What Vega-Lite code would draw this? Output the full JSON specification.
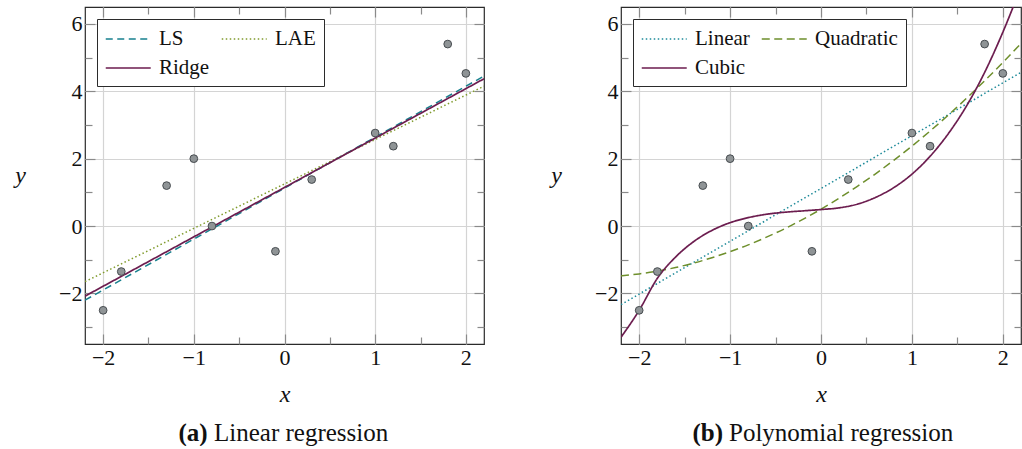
{
  "$schema": "https://vega.github.io/schema/vega-lite/v6.json",
  "padding": {"left": 14, "top": 5, "right": 0, "bottom": 0},
  "spacing": 64,
  "config": {
    "font": "Liberation Serif",
    "style": {"guide-label": {"font": "Liberation Serif", "fontSize": 22, "fill": "#111"}, "guide-title": {"font": "Liberation Serif", "fill": "#111"}},
    "view": {"stroke": "#2b2b2b", "strokeWidth": 1.2},
    "axis": {"labelFont": "Liberation Serif", "labelFontSize": 22, "labelColor": "#111", "titleFont": "Liberation Serif", "titleColor": "#111", "titleFontWeight": "normal", "domain": false, "gridColor": "#d4d4d4", "gridWidth": 1.2, "tickColor": "#8a8a8a", "tickWidth": 1.2, "labelFlush": false},
    "legend": {"orient": "top-left", "offset": 12, "columns": 2, "direction": "horizontal", "fillColor": "white", "strokeColor": "#2b2b2b", "padding": 8, "cornerRadius": 0, "symbolType": "M-1,0H3", "symbolSize": 506, "symbolStrokeWidth": 1.5, "labelFont": "Liberation Serif", "labelFontSize": 21, "labelColor": "#111", "labelOffset": 30, "columnPadding": 8, "rowPadding": 7},
    "line": {"strokeWidth": 1.5, "clip": true}
  },
  "datasets": {
    "pts": [
      {"x": -2, "y": -2.5}, {"x": -1.8, "y": -1.35}, {"x": -1.3, "y": 1.2}, {"x": -1, "y": 2},
      {"x": -0.8, "y": 0}, {"x": -0.1, "y": -0.75}, {"x": 0.3, "y": 1.38}, {"x": 1, "y": 2.76},
      {"x": 1.2, "y": 2.37}, {"x": 1.8, "y": 5.4}, {"x": 2, "y": 4.53}
    ],
    "lin": [
      {"series": "LS", "x": -2.2, "y": -2.2}, {"series": "LS", "x": 2.2, "y": 4.45},
      {"series": "LAE", "x": -2.2, "y": -1.65}, {"series": "LAE", "x": 2.2, "y": 4.15},
      {"series": "Ridge", "x": -2.2, "y": -2.08}, {"series": "Ridge", "x": 2.2, "y": 4.37}
    ],
    "poly": [
      {"series": "Linear", "x": -2.2, "y": -2.33}, {"series": "Linear", "x": 2.2, "y": 4.56},
      {"series": "Quadratic", "x": -2.2, "y": -1.48}, {"series": "Quadratic", "x": -2.0, "y": -1.42},
      {"series": "Quadratic", "x": -1.8, "y": -1.34}, {"series": "Quadratic", "x": -1.6, "y": -1.23},
      {"series": "Quadratic", "x": -1.4, "y": -1.1}, {"series": "Quadratic", "x": -1.2, "y": -0.94},
      {"series": "Quadratic", "x": -1.0, "y": -0.76}, {"series": "Quadratic", "x": -0.8, "y": -0.56},
      {"series": "Quadratic", "x": -0.6, "y": -0.33}, {"series": "Quadratic", "x": -0.4, "y": -0.08},
      {"series": "Quadratic", "x": -0.2, "y": 0.2}, {"series": "Quadratic", "x": 0, "y": 0.5},
      {"series": "Quadratic", "x": 0.2, "y": 0.83}, {"series": "Quadratic", "x": 0.4, "y": 1.18},
      {"series": "Quadratic", "x": 0.6, "y": 1.55}, {"series": "Quadratic", "x": 0.8, "y": 1.95},
      {"series": "Quadratic", "x": 1.0, "y": 2.37}, {"series": "Quadratic", "x": 1.2, "y": 2.82},
      {"series": "Quadratic", "x": 1.4, "y": 3.29}, {"series": "Quadratic", "x": 1.6, "y": 3.79},
      {"series": "Quadratic", "x": 1.8, "y": 4.31}, {"series": "Quadratic", "x": 2.0, "y": 4.85},
      {"series": "Quadratic", "x": 2.2, "y": 5.42},
      {"series": "Cubic", "x": -2.2, "y": -3.3}, {"series": "Cubic", "x": -2.0, "y": -2.5},
      {"series": "Cubic", "x": -1.8, "y": -1.55}, {"series": "Cubic", "x": -1.6, "y": -0.92},
      {"series": "Cubic", "x": -1.4, "y": -0.46}, {"series": "Cubic", "x": -1.2, "y": -0.13},
      {"series": "Cubic", "x": -1.0, "y": 0.1}, {"series": "Cubic", "x": -0.8, "y": 0.25},
      {"series": "Cubic", "x": -0.6, "y": 0.35}, {"series": "Cubic", "x": -0.4, "y": 0.41},
      {"series": "Cubic", "x": -0.2, "y": 0.45}, {"series": "Cubic", "x": 0, "y": 0.49},
      {"series": "Cubic", "x": 0.2, "y": 0.54}, {"series": "Cubic", "x": 0.4, "y": 0.65},
      {"series": "Cubic", "x": 0.6, "y": 0.85}, {"series": "Cubic", "x": 0.8, "y": 1.14},
      {"series": "Cubic", "x": 1.0, "y": 1.54}, {"series": "Cubic", "x": 1.2, "y": 2.07},
      {"series": "Cubic", "x": 1.4, "y": 2.74}, {"series": "Cubic", "x": 1.6, "y": 3.56},
      {"series": "Cubic", "x": 1.8, "y": 4.56}, {"series": "Cubic", "x": 2.0, "y": 5.75},
      {"series": "Cubic", "x": 2.2, "y": 7.1}
    ]
  },
  "resolve": {"scale": {"color": "independent", "strokeDash": "independent"}},
  "hconcat": [
    {
      "width": 399, "height": 337,
      "resolve": {"axis": {"x": "independent", "y": "independent"}},
      "layer": [
        {
          "data": {"name": "lin"},
          "transform": [{"filter": "datum.series === 'LS'"}],
          "mark": {"type": "line", "clip": true},
          "encoding": {
            "x": {"field": "x", "type": "quantitative", "scale": {"domain": [-2.2, 2.2], "nice": false, "zero": false},
              "axis": {"orient": "top", "values": [-2, -1.5, -1, -0.5, 0, 0.5, 1, 1.5, 2], "tickSize": {"condition": {"test": "datum.value % 1 !== 0", "value": -7}, "value": -10}, "labels": false, "grid": false, "title": null}},
            "y": {"field": "y", "type": "quantitative", "scale": {"domain": [-3.5, 6.5], "nice": false, "zero": false},
              "axis": {"orient": "right", "values": [-3, -2, -1, 0, 1, 2, 3, 4, 5, 6], "tickSize": {"condition": {"test": "abs(datum.value) % 2 === 1", "value": -7}, "value": -10}, "labels": false, "grid": false, "title": null}},
            "color": {"field": "series", "type": "nominal", "scale": {"domain": ["LS", "LAE", "Ridge"], "range": ["#17808e", "#809b2d", "#6c1d4f"]}, "legend": {"title": null, "labelFont": "Liberation Serif", "labelFontSize": 21, "direction": "horizontal", "columns": 2}},
            "strokeDash": {"field": "series", "type": "nominal", "scale": {"domain": ["LS", "LAE", "Ridge"], "range": [[7, 4.5], [1.5, 2.5], [1, 0]]}, "legend": {"title": null, "labelFont": "Liberation Serif", "labelFontSize": 21, "direction": "horizontal", "columns": 2}}
          }
        },
        {
          "data": {"name": "lin"},
          "transform": [{"filter": "datum.series === 'LAE'"}],
          "mark": {"type": "line", "clip": true},
          "encoding": {
            "x": {"field": "x", "type": "quantitative", "scale": {"domain": [-2.2, 2.2], "nice": false, "zero": false},
              "axis": {"orient": "bottom", "ticks": false, "labels": false, "grid": false, "title": "(a)", "titleFont": "Liberation Serif", "titleFontWeight": "bold", "titleFontSize": 25, "titleX": 93, "titleY": 88, "titleAlign": "left", "titleBaseline": "middle"}},
            "y": {"field": "y", "type": "quantitative", "scale": {"domain": [-3.5, 6.5], "nice": false, "zero": false}, "axis": null},
            "color": {"field": "series", "type": "nominal", "scale": {"domain": ["LS", "LAE", "Ridge"], "range": ["#17808e", "#809b2d", "#6c1d4f"]}, "legend": {"title": null, "labelFont": "Liberation Serif", "labelFontSize": 21, "direction": "horizontal", "columns": 2}},
            "strokeDash": {"field": "series", "type": "nominal", "scale": {"domain": ["LS", "LAE", "Ridge"], "range": [[7, 4.5], [1.5, 2.5], [1, 0]]}, "legend": {"title": null, "labelFont": "Liberation Serif", "labelFontSize": 21, "direction": "horizontal", "columns": 2}}
          }
        },
        {
          "data": {"name": "lin"},
          "transform": [{"filter": "datum.series === 'Ridge'"}],
          "mark": {"type": "line", "clip": true, "strokeWidth": 1.7},
          "encoding": {
            "x": {"field": "x", "type": "quantitative", "scale": {"domain": [-2.2, 2.2], "nice": false, "zero": false},
              "axis": {"orient": "bottom", "ticks": false, "labels": false, "grid": false, "title": "Linear regression", "titleFont": "Liberation Serif", "titleFontSize": 25, "titleX": 128.5, "titleY": 88, "titleAlign": "left", "titleBaseline": "middle"}},
            "y": {"field": "y", "type": "quantitative", "scale": {"domain": [-3.5, 6.5], "nice": false, "zero": false}, "axis": null},
            "color": {"field": "series", "type": "nominal", "scale": {"domain": ["LS", "LAE", "Ridge"], "range": ["#17808e", "#809b2d", "#6c1d4f"]}, "legend": {"title": null, "labelFont": "Liberation Serif", "labelFontSize": 21, "direction": "horizontal", "columns": 2}},
            "strokeDash": {"field": "series", "type": "nominal", "scale": {"domain": ["LS", "LAE", "Ridge"], "range": [[7, 4.5], [1.5, 2.5], [1, 0]]}, "legend": {"title": null, "labelFont": "Liberation Serif", "labelFontSize": 21, "direction": "horizontal", "columns": 2}}
          }
        },
        {
          "data": {"name": "pts"},
          "mark": {"type": "point", "filled": true, "fill": "#8f9496", "stroke": "#474c50", "strokeWidth": 1, "size": 60, "opacity": 1},
          "encoding": {
            "x": {"field": "x", "type": "quantitative", "scale": {"domain": [-2.2, 2.2], "nice": false, "zero": false},
              "axis": {"orient": "bottom", "values": [-2, -1.5, -1, -0.5, 0, 0.5, 1, 1.5, 2], "tickSize": {"condition": {"test": "datum.value % 1 !== 0", "value": -7}, "value": -10}, "labelExpr": "datum.value % 1 !== 0 ? '' : format(datum.value, 'd')", "labelFont": "Liberation Serif", "labelFontSize": 22, "labelColor": "#111", "grid": true, "gridOpacity": {"condition": {"test": "datum.value % 1 !== 0", "value": 0}, "value": 1}, "labelPadding": 13, "title": "x", "titleFont": "Liberation Serif", "titleFontStyle": "italic", "titleFontSize": 24, "titleY": 50, "titleBaseline": "middle"}},
            "y": {"field": "y", "type": "quantitative", "scale": {"domain": [-3.5, 6.5], "nice": false, "zero": false},
              "axis": {"orient": "left", "values": [-3, -2, -1, 0, 1, 2, 3, 4, 5, 6], "tickSize": {"condition": {"test": "abs(datum.value) % 2 === 1", "value": -7}, "value": -10}, "labelExpr": "abs(datum.value) % 2 === 1 ? '' : format(datum.value, 'd')", "labelFont": "Liberation Serif", "labelFontSize": 22, "labelColor": "#111", "grid": true, "gridOpacity": {"condition": {"test": "abs(datum.value) % 2 === 1", "value": 0}, "value": 1}, "labelPadding": 13, "title": "y", "titleFont": "Liberation Serif", "titleAngle": 0, "titleFontStyle": "italic", "titleFontSize": 24, "titleX": -65, "titleY": 168, "titleAlign": "center", "titleBaseline": "middle"}}
          }
        }
      ]
    },
    {
      "width": 400, "height": 337,
      "resolve": {"axis": {"x": "independent", "y": "independent"}},
      "layer": [
        {
          "data": {"name": "poly"},
          "transform": [{"filter": "datum.series === 'Linear'"}],
          "mark": {"type": "line", "clip": true, "interpolate": "monotone"},
          "encoding": {
            "x": {"field": "x", "type": "quantitative", "scale": {"domain": [-2.2, 2.2], "nice": false, "zero": false},
              "axis": {"orient": "top", "values": [-2, -1.5, -1, -0.5, 0, 0.5, 1, 1.5, 2], "tickSize": {"condition": {"test": "datum.value % 1 !== 0", "value": -7}, "value": -10}, "labels": false, "grid": false, "title": null}},
            "y": {"field": "y", "type": "quantitative", "scale": {"domain": [-3.5, 6.5], "nice": false, "zero": false},
              "axis": {"orient": "right", "values": [-3, -2, -1, 0, 1, 2, 3, 4, 5, 6], "tickSize": {"condition": {"test": "abs(datum.value) % 2 === 1", "value": -7}, "value": -10}, "labels": false, "grid": false, "title": null}},
            "color": {"field": "series", "type": "nominal", "scale": {"domain": ["Linear", "Quadratic", "Cubic"], "range": ["#1d8a99", "#6e8f2c", "#6c1d4f"]}, "legend": {"title": null, "labelFont": "Liberation Serif", "labelFontSize": 21, "direction": "horizontal", "columns": 2}},
            "strokeDash": {"field": "series", "type": "nominal", "scale": {"domain": ["Linear", "Quadratic", "Cubic"], "range": [[1.5, 2.5], [8, 4.5], [1, 0]]}, "legend": {"title": null, "labelFont": "Liberation Serif", "labelFontSize": 21, "direction": "horizontal", "columns": 2}}
          }
        },
        {
          "data": {"name": "poly"},
          "transform": [{"filter": "datum.series === 'Quadratic'"}],
          "mark": {"type": "line", "clip": true, "interpolate": "monotone"},
          "encoding": {
            "x": {"field": "x", "type": "quantitative", "scale": {"domain": [-2.2, 2.2], "nice": false, "zero": false},
              "axis": {"orient": "bottom", "ticks": false, "labels": false, "grid": false, "title": "(b)", "titleFont": "Liberation Serif", "titleFontWeight": "bold", "titleFontSize": 25, "titleX": 71, "titleY": 88, "titleAlign": "left", "titleBaseline": "middle"}},
            "y": {"field": "y", "type": "quantitative", "scale": {"domain": [-3.5, 6.5], "nice": false, "zero": false}, "axis": null},
            "color": {"field": "series", "type": "nominal", "scale": {"domain": ["Linear", "Quadratic", "Cubic"], "range": ["#1d8a99", "#6e8f2c", "#6c1d4f"]}, "legend": {"title": null, "labelFont": "Liberation Serif", "labelFontSize": 21, "direction": "horizontal", "columns": 2}},
            "strokeDash": {"field": "series", "type": "nominal", "scale": {"domain": ["Linear", "Quadratic", "Cubic"], "range": [[1.5, 2.5], [8, 4.5], [1, 0]]}, "legend": {"title": null, "labelFont": "Liberation Serif", "labelFontSize": 21, "direction": "horizontal", "columns": 2}}
          }
        },
        {
          "data": {"name": "poly"},
          "transform": [{"filter": "datum.series === 'Cubic'"}],
          "mark": {"type": "line", "clip": true, "interpolate": "monotone", "strokeWidth": 1.7},
          "encoding": {
            "x": {"field": "x", "type": "quantitative", "scale": {"domain": [-2.2, 2.2], "nice": false, "zero": false},
              "axis": {"orient": "bottom", "ticks": false, "labels": false, "grid": false, "title": "Polynomial regression", "titleFont": "Liberation Serif", "titleFontSize": 25, "titleX": 107.5, "titleY": 88, "titleAlign": "left", "titleBaseline": "middle"}},
            "y": {"field": "y", "type": "quantitative", "scale": {"domain": [-3.5, 6.5], "nice": false, "zero": false}, "axis": null},
            "color": {"field": "series", "type": "nominal", "scale": {"domain": ["Linear", "Quadratic", "Cubic"], "range": ["#1d8a99", "#6e8f2c", "#6c1d4f"]}, "legend": {"title": null, "labelFont": "Liberation Serif", "labelFontSize": 21, "direction": "horizontal", "columns": 2}},
            "strokeDash": {"field": "series", "type": "nominal", "scale": {"domain": ["Linear", "Quadratic", "Cubic"], "range": [[1.5, 2.5], [8, 4.5], [1, 0]]}, "legend": {"title": null, "labelFont": "Liberation Serif", "labelFontSize": 21, "direction": "horizontal", "columns": 2}}
          }
        },
        {
          "data": {"name": "pts"},
          "mark": {"type": "point", "filled": true, "fill": "#8f9496", "stroke": "#474c50", "strokeWidth": 1, "size": 60, "opacity": 1},
          "encoding": {
            "x": {"field": "x", "type": "quantitative", "scale": {"domain": [-2.2, 2.2], "nice": false, "zero": false},
              "axis": {"orient": "bottom", "values": [-2, -1.5, -1, -0.5, 0, 0.5, 1, 1.5, 2], "tickSize": {"condition": {"test": "datum.value % 1 !== 0", "value": -7}, "value": -10}, "labelExpr": "datum.value % 1 !== 0 ? '' : format(datum.value, 'd')", "labelFont": "Liberation Serif", "labelFontSize": 22, "labelColor": "#111", "grid": true, "gridOpacity": {"condition": {"test": "datum.value % 1 !== 0", "value": 0}, "value": 1}, "labelPadding": 13, "title": "x", "titleFont": "Liberation Serif", "titleFontStyle": "italic", "titleFontSize": 24, "titleY": 50, "titleBaseline": "middle"}},
            "y": {"field": "y", "type": "quantitative", "scale": {"domain": [-3.5, 6.5], "nice": false, "zero": false},
              "axis": {"orient": "left", "values": [-3, -2, -1, 0, 1, 2, 3, 4, 5, 6], "tickSize": {"condition": {"test": "abs(datum.value) % 2 === 1", "value": -7}, "value": -10}, "labelExpr": "abs(datum.value) % 2 === 1 ? '' : format(datum.value, 'd')", "labelFont": "Liberation Serif", "labelFontSize": 22, "labelColor": "#111", "grid": true, "gridOpacity": {"condition": {"test": "abs(datum.value) % 2 === 1", "value": 0}, "value": 1}, "labelPadding": 13, "title": "y", "titleFont": "Liberation Serif", "titleAngle": 0, "titleFontStyle": "italic", "titleFontSize": 24, "titleX": -65, "titleY": 168, "titleAlign": "center", "titleBaseline": "middle"}}
          }
        }
      ]
    }
  ]
}
